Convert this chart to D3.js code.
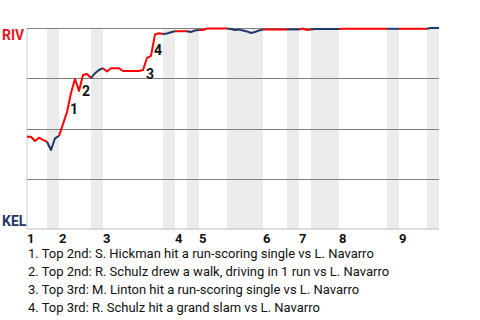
<!DOCTYPE html>
<html>
<head>
<meta charset="utf-8">
<script src="https://cdn.jsdelivr.net/npm/d3@7"></script>
<style>
  body { margin: 0; background: #fff; }
  svg { display: block; font-family: Roboto, sans-serif; }
</style>
</head>
<body>
<div id="chart"></div>
<script>
// teams
var awayTeam = "RIV";
var homeTeam = "KEL";

// inning labels and plays per half inning (top, bottom, top, bottom ...)
var innings = ["1", "2", "3", "4", "5", "6", "7", "8", "9"];
var halfPlays = [5, 3, 8, 3, 15, 3, 3, 3, 7, 9, 6, 3, 3, 7, 12, 3, 7, 3];

// RIV win probability (%) after each play, first value is before the game
var winProb = [
  45.9, 45.9, 43.8, 45.4, 44.3,
  43.4, 39.3, 45.1,
  46.3, 52.2, 58.2, 67.7, 74.6, 68.7, 76.6, 77.1,
  75.1, 77.5, 79.1,
  80.0, 78.4, 80.0, 80.0, 80.0, 78.6, 78.6, 78.6, 78.6, 78.6, 79.1, 85.1, 86.1, 96.8, 97.4,
  97.0, 97.3, 97.9,
  98.4, 98.4, 98.4,
  98.4, 98.0, 98.8,
  99.0, 99.0, 99.7, 99.7, 99.7, 99.7, 99.7,
  99.7, 99.5, 99.0, 99.2, 98.8, 98.3, 97.5, 98.0, 98.8,
  99.2, 99.3, 99.3, 99.3, 99.3, 99.3,
  99.3, 99.3, 99.3,
  99.3, 99.7, 99.0,
  99.2, 99.5, 99.5, 99.5, 99.5, 99.5, 99.5,
  99.5, 99.6, 99.6, 99.6, 99.6, 99.6, 99.6, 99.6, 99.6, 99.6, 99.6, 99.6,
  99.6, 99.6, 99.6,
  99.6, 99.6, 99.6, 99.6, 99.6, 99.6, 99.6,
  99.6, 100, 100, 100
];

// key plays
var eventPlay = [11, 14, 30, 32];
var eventText = [
  "1. Top 2nd: S. Hickman hit a run-scoring single vs L. Navarro",
  "2. Top 2nd: R. Schulz drew a walk, driving in 1 run vs L. Navarro",
  "3. Top 3rd: M. Linton hit a run-scoring single vs L. Navarro",
  "4. Top 3rd: R. Schulz hit a grand slam vs L. Navarro"
];

var red = "#ff0000";
var navy = "#1f3866";

var svgWidth = 480, svgHeight = 320;
var margin = {top: 28, right: 41, bottom: 91, left: 27};
var width = svgWidth - margin.left - margin.right;
var height = svgHeight - margin.top - margin.bottom;

var svg = d3.select("#chart").append("svg")
  .attr("width", svgWidth)
  .attr("height", svgHeight);

var g = svg.append("g")
  .attr("transform", `translate(${margin.left}, ${margin.top})`);

var totalPlays = d3.sum(halfPlays);
var x = d3.scaleLinear().domain([0, totalPlays]).range([0, width]);
var y = d3.scaleLinear().domain([0, 100]).range([height, 0]);

// half inning boundaries
var halves = [];
var start = 0;
halfPlays.forEach(function(n, i) {
  halves.push({start: start, end: start + n, top: i % 2 === 0, inning: Math.floor(i / 2)});
  start += n;
});

// shaded bottom halves
g.selectAll("rect.band")
  .data(halves.filter(h => !h.top))
  .enter().append("rect")
  .attr("class", "band")
  .attr("x", d => x(d.start))
  .attr("y", 0)
  .attr("width", d => x(d.end) - x(d.start))
  .attr("height", height)
  .attr("fill", "#ececec");

// frame
g.append("line").attr("x1", 0).attr("x2", 0).attr("y1", 0).attr("y2", height)
  .attr("stroke", "#cfcfcf");
g.append("line").attr("x1", 0).attr("x2", width).attr("y1", height).attr("y2", height)
  .attr("stroke", "#bdbdbd");

// grid lines
g.selectAll("line.grid")
  .data([100, 75, 50, 25])
  .enter().append("line")
  .attr("class", "grid")
  .attr("x1", 0).attr("x2", width)
  .attr("y1", d => Math.round(y(d)) + 0.5)
  .attr("y2", d => Math.round(y(d)) + 0.5)
  .attr("stroke", "#808080");

// win probability line, coloured by half inning
var line = d3.line()
  .x(d => x(d.i))
  .y(d => y(d.v));

halves.forEach(function(h) {
  var pts = d3.range(h.start, h.end + 1).map(i => ({i: i, v: winProb[i]}));
  g.append("path")
    .datum(pts)
    .attr("fill", "none")
    .attr("stroke", h.top ? red : navy)
    .attr("stroke-width", 2)
    .attr("stroke-linejoin", "round")
    .attr("d", line);
});

// event markers
g.selectAll("text.event")
  .data(eventPlay)
  .enter().append("text")
  .attr("class", "event")
  .attr("x", d => x(d) - 1)
  .attr("y", d => y(winProb[d]) + 21)
  .attr("font-size", 14)
  .attr("font-weight", "bold")
  .attr("fill", "#111")
  .text((d, i) => i + 1);

// team labels
svg.append("text")
  .attr("x", 2).attr("y", 40)
  .attr("font-size", 14).attr("font-weight", "bold")
  .attr("fill", "#e8141c")
  .text(awayTeam);
svg.append("text")
  .attr("x", 2).attr("y", 226)
  .attr("font-size", 14).attr("font-weight", "bold")
  .attr("fill", navy)
  .text(homeTeam);

// inning numbers at start of each top half
g.selectAll("text.inning")
  .data(halves.filter(h => h.top))
  .enter().append("text")
  .attr("class", "inning")
  .attr("x", d => x(d.start))
  .attr("y", height + 14)
  .attr("font-size", 13).attr("font-weight", "bold")
  .attr("fill", "#111")
  .text(d => innings[d.inning]);

// key play descriptions
svg.selectAll("text.desc")
  .data(eventText)
  .enter().append("text")
  .attr("class", "desc")
  .attr("x", 28)
  .attr("y", (d, i) => 258 + i * 18)
  .attr("font-size", 13)
  .attr("fill", "#111")
  .text(d => d);
</script>
</body>
</html>
